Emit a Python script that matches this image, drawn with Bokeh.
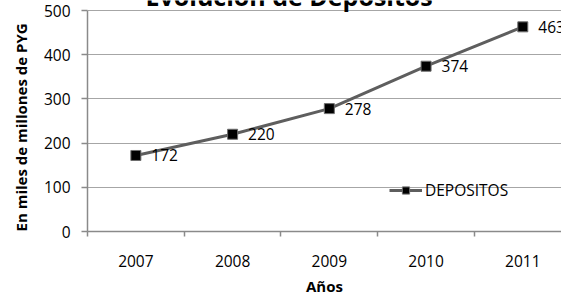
import math
from bokeh.plotting import figure
from bokeh.models import FixedTicker, Legend, LegendItem, ColumnDataSource, Title
from bokeh.embed import file_html
from bokeh.resources import INLINE
from bokeh.core.properties import value

# ---- data ----
years = ["2007", "2008", "2009", "2010", "2011"]
depositos = [172, 220, 278, 374, 463]
y_ticks = [0, 100, 200, 300, 400, 500]
title_text = ["Evolución de Depósitos"]
x_title = "Años"
y_title = "En miles de millones de PYG"
series_name = "DEPOSITOS"

FONT = "Open Sans"
xs = list(range(1, len(years) + 1))
src = ColumnDataSource(dict(x=xs, y=depositos, lbl=[str(v) for v in depositos]))

W, H = 561, 299
LEFT, BOTTOM = 85, 68
frame_h = H - BOTTOM            # frame runs from the very top of the canvas
top_gap = 10                    # pixels between the frame top and the 500 gridline
y_end = y_ticks[-1] * frame_h / (frame_h - top_gap)
x_start, x_end = 0.5, 5.4
px_per_x = (W - LEFT) / (x_end - x_start)

p = figure(width=W, height=H, output_backend="svg", toolbar_location=None,
           x_range=(x_start, x_end), y_range=(0, y_end),
           min_border_left=LEFT, min_border_right=0,
           min_border_top=0, min_border_bottom=BOTTOM)
p.outline_line_color = None
p.background_fill_color = "white"
p.border_fill_color = "white"

# y axis
p.yaxis.ticker = FixedTicker(ticks=y_ticks, minor_ticks=[])
p.yaxis.bounds = (y_ticks[0], y_ticks[-1])
p.yaxis.major_tick_out = 6
p.yaxis.major_tick_in = 0
p.yaxis.minor_tick_out = 0
p.yaxis.minor_tick_in = 0
p.yaxis.axis_line_color = "#8a8a8a"
p.yaxis.axis_line_width = 1.5
p.yaxis.major_tick_line_color = "#8a8a8a"
p.yaxis.major_tick_line_width = 1.5
p.yaxis.major_label_standoff = 11
p.yaxis.major_label_text_font = FONT
p.yaxis.major_label_text_font_size = "15.5px"
p.yaxis.major_label_text_color = "black"

p.add_layout(Title(text=y_title, align="left", vertical_align="middle", offset=0,
                   standoff=18, text_font=FONT, text_font_size="15px",
                   text_font_style="bold", text_color="black"), "left")

p.ygrid.ticker = FixedTicker(ticks=y_ticks, minor_ticks=[])
p.ygrid.grid_line_color = "#a6a6a6"
p.ygrid.grid_line_width = 1.2
p.xgrid.grid_line_color = None

# x axis
p.xaxis.ticker = FixedTicker(ticks=xs, minor_ticks=[x - 0.5 for x in xs] + [xs[-1] + 0.5])
p.xaxis.major_label_overrides = {x: y for x, y in zip(xs, years)}
p.xaxis.major_tick_out = 0
p.xaxis.major_tick_in = 0
p.xaxis.minor_tick_out = 5
p.xaxis.minor_tick_in = 0
p.xaxis.minor_tick_line_color = "#8a8a8a"
p.xaxis.minor_tick_line_width = 1.5
p.xaxis.axis_line_color = "#8a8a8a"
p.xaxis.axis_line_width = 1.5
p.xaxis.major_label_standoff = 18
p.xaxis.major_label_text_font = FONT
p.xaxis.major_label_text_font_size = "15.5px"
p.xaxis.major_label_text_color = "black"
p.xaxis.axis_label = x_title
p.xaxis.axis_label_standoff = 6
p.xaxis.axis_label_text_font = FONT
p.xaxis.axis_label_text_font_size = "15px"
p.xaxis.axis_label_text_font_style = "bold"
p.xaxis.axis_label_text_color = "black"

# series
line_r = p.line("x", "y", source=src, line_color="#5e5e5e", line_width=3)
sc_r = p.scatter("x", "y", source=src, marker="square", size=10,
                 fill_color="black", line_color="#6e6e6e", line_width=1)
p.text("x", "y", text="lbl", source=src, x_offset=15.5, text_baseline="middle",
       text_align="left", text_font=value(FONT), text_font_size="15.5px",
       text_color="black")

legend = Legend(items=[LegendItem(label=series_name, renderers=[line_r, sc_r])],
                location=(302, 30), padding=0, margin=0, spacing=0,
                glyph_width=33, glyph_height=18, label_standoff=3,
                label_text_font=FONT, label_text_font_size="15.5px",
                label_text_color="black", border_line_color=None,
                background_fill_alpha=0)
p.add_layout(legend, "center")

# chart title, cut off at the top as in the original: centred at x=287.5 px,
# only the lower part of the letters visible
title_x = x_start + (287.5 - LEFT) / px_per_x
title_y = y_end * (1 + 5.0 / frame_h)
p.text(x=[title_x], y=[title_y], text=title_text, text_align="center",
       text_baseline="alphabetic", text_font=value(FONT), text_font_size="25px",
       text_font_style="bold", text_color="black")

open("out.html", "w").write(file_html(p, INLINE))
